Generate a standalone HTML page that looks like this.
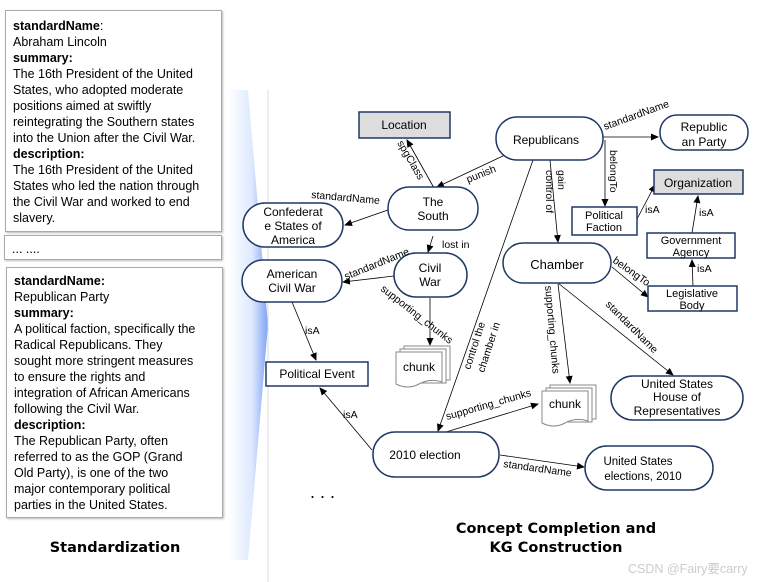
<!DOCTYPE html>
<html><head><meta charset="utf-8"><style>
body{margin:0;width:764px;height:582px;background:#fff;position:relative;overflow:hidden;font-family:"Liberation Sans",sans-serif}
.box{position:absolute;border:1px solid #aaa;box-shadow:1px 1px 2px #bbb;background:#fff;font-size:12.5px;line-height:16px;color:#000;padding:0 7px;box-sizing:border-box;white-space:nowrap}
b{font-weight:bold}
</style></head><body>
<svg width="764" height="582" style="position:absolute;left:0;top:0">
<defs>
<linearGradient id="g" x1="0" x2="1"><stop offset="0" stop-color="#fff"/><stop offset="0.6" stop-color="#cfe0ff"/><stop offset="1" stop-color="#4a7cf0"/></linearGradient>
<marker id="a" markerWidth="8" markerHeight="8" refX="7" refY="4" orient="auto" markerUnits="userSpaceOnUse"><path d="M0,0.5 L8,4 L0,7.5z" fill="#000"/></marker>
</defs>
<path d="M228,90 L248,90 L268,325 L248,560 L228,560 Z" fill="url(#g)" opacity="0.7"/>
<line x1="268" y1="90" x2="268" y2="582" stroke="#ddd"/>
<g stroke="#000" stroke-width="0.8" fill="none" marker-end="url(#a)">
<line x1="434" y1="188" x2="407" y2="140"/>
<line x1="505" y1="155" x2="437" y2="187"/>
<line x1="388" y1="210" x2="345" y2="225"/>
<line x1="433" y1="236" x2="428" y2="252"/>
<line x1="394" y1="276" x2="343" y2="282"/>
<line x1="430" y1="298" x2="430" y2="345"/>
<line x1="292" y1="302" x2="316" y2="360"/>
<line x1="603" y1="137" x2="658" y2="137"/>
<line x1="605" y1="140" x2="605" y2="206"/>
<line x1="637" y1="219" x2="655" y2="185"/>
<line x1="692" y1="233" x2="698" y2="196"/>
<line x1="693" y1="286" x2="692" y2="260"/>
<line x1="550" y1="160" x2="558" y2="242"/>
<line x1="612" y1="267" x2="648" y2="297"/>
<line x1="558" y1="284" x2="570" y2="383"/>
<line x1="558" y1="283" x2="673" y2="375"/>
<line x1="533" y1="160" x2="438" y2="431"/>
<line x1="446" y1="432" x2="538" y2="404"/>
<line x1="372" y1="450" x2="320" y2="388"/>
<line x1="500" y1="455" x2="584" y2="467"/>
</g>
<g stroke="#1f3864" stroke-width="1.5" fill="#fff">
<rect x="359" y="112" width="91" height="26" fill="#ddd"/>
<rect x="654" y="170" width="89" height="24" fill="#ddd"/>
<rect x="572" y="207" width="65" height="28"/>
<rect x="647" y="233" width="88" height="25"/>
<rect x="648" y="286" width="89" height="25"/>
<rect x="266" y="362" width="102" height="24"/>
<rect x="496" y="117" width="107" height="43" rx="21"/>
<rect x="660" y="115" width="88" height="35" rx="17"/>
<rect x="503" y="243" width="108" height="40" rx="20"/>
<rect x="611" y="376" width="132" height="44" rx="22"/>
<rect x="388" y="187" width="90" height="43" rx="21"/>
<rect x="243" y="203" width="100" height="44" rx="22"/>
<rect x="242" y="260" width="100" height="42" rx="21"/>
<rect x="394" y="253" width="73" height="44" rx="22"/>
<rect x="373" y="432" width="126" height="45" rx="22"/>
<rect x="585" y="446" width="128" height="44" rx="22"/>
</g>
<g stroke="#888" fill="#fff" stroke-width="1">
<path d="M404,346h46v34h-46z"/><path d="M400,349h46v34h-46z"/><path d="M396,352h46v30q-12,-4 -23,2t-23,0z"/>
<path d="M550,385h46v34h-46z"/><path d="M546,388h46v34h-46z"/><path d="M542,391h46v30q-12,-4 -23,2t-23,0z"/>
</g>
<g font-family="Liberation Sans,sans-serif" font-size="12" text-anchor="middle" fill="#000">
<text x="404" y="129">Location</text>
<text x="698" y="187">Organization</text>
<text x="604" y="219" font-size="11">Political</text><text x="604" y="231" font-size="11">Faction</text>
<text x="691" y="244" font-size="11">Government</text><text x="691" y="256" font-size="11">Agency</text>
<text x="692" y="297" font-size="11">Legislative</text><text x="692" y="309" font-size="11">Body</text>
<text x="317" y="378">Political Event</text>
<text x="546" y="144">Republicans</text>
<text x="704" y="131">Republic</text><text x="704" y="146">an Party</text>
<text x="557" y="269" font-size="13">Chamber</text>
<text x="677" y="388">United States</text><text x="677" y="401">House of</text><text x="677" y="415">Representatives</text>
<text x="433" y="206">The</text><text x="433" y="220">South</text>
<text x="293" y="216">Confederat</text><text x="293" y="230">e States of</text><text x="293" y="244">America</text>
<text x="292" y="278">American</text><text x="292" y="292">Civil War</text>
<text x="430" y="272">Civil</text><text x="430" y="286">War</text>
<text x="419" y="371">chunk</text><text x="565" y="408">chunk</text>
<text x="425" y="459" font-size="12">2010 election</text>
<text x="638" y="465" font-size="11.5">United States</text><text x="643" y="480" font-size="11.5">elections, 2010</text>
</g>
<g font-family="Liberation Sans,sans-serif" font-size="10.5" fill="#000">
<text transform="translate(397,143) rotate(60)">spgClass</text>
<text transform="translate(468,183) rotate(-22)">punish</text>
<text transform="translate(311,198) rotate(5)">standardName</text>
<text x="442" y="248">lost in</text>
<text transform="translate(346,280) rotate(-22)">standardName</text>
<text transform="translate(380,290) rotate(38)">supporting_chunks</text>
<text x="305" y="334">isA</text>
<text transform="translate(605,130) rotate(-20)">standardName</text>
<text transform="translate(610,150) rotate(90)">belongTo</text>
<text x="645" y="213">isA</text>
<text x="699" y="216">isA</text>
<text x="697" y="272">isA</text>
<text transform="translate(558,170) rotate(90)">gain</text>
<text transform="translate(546,170) rotate(90)">control of</text>
<text transform="translate(612,262) rotate(35)">belongTo</text>
<text transform="translate(545,286) rotate(85)">supporting_chunks</text>
<text transform="translate(605,305) rotate(45)">standardName</text>
<text transform="translate(470,370) rotate(-72)">control the</text>
<text transform="translate(484,373) rotate(-72)">chamber in</text>
<text transform="translate(447,420) rotate(-16)">supporting_chunks</text>
<text x="343" y="418">isA</text>
<text transform="translate(503,467) rotate(8)">standardName</text>
</g>
<text x="310" y="498" font-size="18" font-family="Liberation Sans,sans-serif">. . .</text>
<g font-family="DejaVu Sans,sans-serif" font-weight="bold" font-size="14.5" text-anchor="middle">
<text x="556" y="533">Concept Completion and</text>
<text x="556" y="552">KG Construction</text>
<text x="115" y="552">Standardization</text>
</g>
<text x="628" y="573" font-size="12.5" fill="#ccc" font-family="Liberation Sans,'Noto Sans CJK SC',sans-serif">CSDN @Fairy要carry</text>
</svg>
<div class="box" style="left:5px;top:10px;width:217px;height:222px;padding-top:7px">
<b>standardName</b>:<br>Abraham Lincoln<br><b>summary:</b><br>The 16th President of the United<br>States, who adopted moderate<br>positions aimed at swiftly<br>reintegrating the Southern states<br>into the Union after the Civil War.<br><b>description:</b><br>The 16th President of the United<br>States who led the nation through<br>the Civil War and worked to end<br>slavery.</div>
<div class="box" style="left:4px;top:235px;width:218px;height:25px;padding-top:5px">... ....</div>
<div class="box" style="left:6px;top:267px;width:217px;height:251px;padding-top:5px">
<b>standardName:</b><br>Republican Party<br><b>summary:</b><br>A political faction, specifically the<br>Radical Republicans. They<br>sought more stringent measures<br>to ensure the rights and<br>integration of African Americans<br>following the Civil War.<br><b>description:</b><br>The Republican Party, often<br>referred to as the GOP (Grand<br>Old Party), is one of the two<br>major contemporary political<br>parties in the United States.</div>
</body></html>
